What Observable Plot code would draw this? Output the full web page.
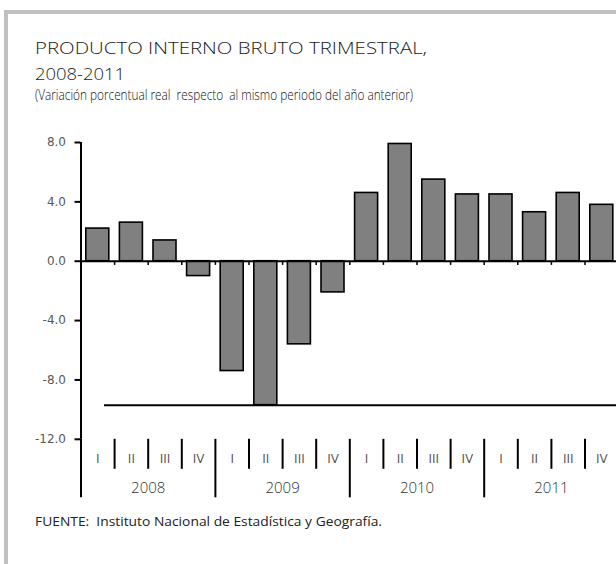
<!DOCTYPE html>
<html>
<head>
<meta charset="utf-8">
<script src="https://cdn.jsdelivr.net/npm/d3@7"></script>
<script src="https://cdn.jsdelivr.net/npm/@observablehq/plot@0.6"></script>
<style>
  html, body { margin: 0; padding: 0; background: #fff; overflow: hidden; }
  #page { position: relative; width: 616px; height: 564px; overflow: hidden; }
  #frame { position: absolute; left: 4px; top: 10px; width: 800px; height: 800px;
           border-top: 4px solid #c0c0c0; border-left: 4px solid #c0c0c0; box-sizing: border-box; }
  .t { position: absolute; left: 35px; white-space: pre; display: inline-block; transform-origin: 0 0;
       font-family: "Open Sans", sans-serif; color: #1a1a1a; font-weight: 300; }
  #chart { position: absolute; left: 0; top: 125px; }
</style>
</head>
<body>
<div id="page">
  <div id="frame"></div>
  <div class="t" id="title1" data-w="392" style="top:39px;font-size:17px;line-height:17px;">PRODUCTO INTERNO BRUTO TRIMESTRAL,</div>
  <div class="t" id="title2" data-w="90" style="top:65px;font-size:17px;line-height:17px;">2008-2011</div>
  <div class="t" id="subtitle" data-w="378" style="top:87px;font-size:15px;line-height:15px;color:#111;">(Variación porcentual real  respecto  al mismo periodo del año anterior)</div>
  <div id="chart"></div>
  <div class="t" id="caption" data-w="347" style="top:515px;font-size:13px;line-height:13px;color:#222;font-weight:400;">FUENTE:  Instituto Nacional de Estadística y Geografía.</div>
</div>
<script>
// ---- data ----
const years = ["2008", "2009", "2010", "2011"];
const quarters = ["I", "II", "III", "IV"];
const values = [2.2, 2.6, 1.4, -1.0, -7.4, -9.7, -5.6, -2.1, 4.6, 7.9, 5.5, 4.5, 4.5, 3.3, 4.6, 3.8];
const yTicks = [-12, -8, -4, 0, 4, 8];
const minLineValue = -9.7;   // horizontal line drawn in the original at the minimum
const minLineStart = 0.7;    // it begins partway into the first quarter

// table built from the arrays
const data = values.map((v, i) => ({
  i, year: years[Math.floor(i / quarters.length)], quarter: quarters[i % quarters.length], value: v
}));
const n = values.length;
const quarterCenters = d3.range(n).map(i => i + 0.5);
const yearBoundaries = d3.range(0, n + 1, quarters.length);
const quarterBoundaries = d3.range(1, n).filter(i => i % quarters.length !== 0);
const innerBoundaries = d3.range(1, n);
const yearCenters = years.map((y, k) => k * quarters.length + quarters.length / 2);

const plot = Plot.plot({
  width: 616,
  height: 380,
  marginTop: 17,
  marginBottom: 66.2,
  marginLeft: 80.5,
  marginRight: 0,
  style: { fontFamily: "DejaVu Sans", background: "transparent", overflow: "hidden" },
  x: { domain: [0, n], range: [80.5, 618.1], label: null },
  y: { domain: [-12, 8], range: [313.8, 17], label: null },
  marks: [
    Plot.rectY(data, {
      x1: "i", x2: d => d.i + 1, y1: 0, y2: "value",
      insetLeft: 5.3, insetRight: 5.3,
      fill: "#808080", stroke: "#000", strokeWidth: 1.6
    }),
    Plot.ruleY([minLineValue], { x1: minLineStart, x2: n, stroke: "#000", strokeWidth: 2 }),
    Plot.ruleY([0], { stroke: "#000", strokeWidth: 2 }),
    Plot.ruleX(innerBoundaries, { y1: 0, y2: -0.28, stroke: "#000", strokeWidth: 1.5 }),
    Plot.ruleX([0], { y1: -12, y2: 8, stroke: "#000", strokeWidth: 2 }),
    Plot.axisY({
      ticks: yTicks, tickFormat: d => d.toFixed(1), tickSize: 6, tickPadding: 9, label: null,
      stroke: "#000", strokeWidth: 2, fill: "#595959", fontSize: 12
    }),
    Plot.axisX({
      ticks: quarterBoundaries, tickSize: 30, tickFormat: () => "", label: null,
      stroke: "#000", strokeWidth: 2
    }),
    Plot.axisX({
      ticks: yearBoundaries, tickSize: 58.5, tickFormat: () => "", label: null,
      stroke: "#000", strokeWidth: 2
    }),
    Plot.axisX({
      ticks: quarterCenters, tickSize: 0, tickPadding: 15.5, label: null,
      tickFormat: d => quarters[Math.floor(d) % quarters.length],
      fill: "#555", fillOpacity: 0.99, fontSize: 12
    }),
    Plot.axisX({
      ticks: yearCenters, tickSize: 0, tickPadding: 43.5, label: null,
      tickFormat: d => years[Math.floor(d / quarters.length)],
      fill: "#333", fontSize: 15, fontFamily: "Open Sans", fontWeight: 300
    })
  ]
});
document.getElementById("chart").appendChild(plot);

// fit the HTML texts to the widths measured on the reference
document.querySelectorAll("[data-w]").forEach(el => {
  const w = el.getBoundingClientRect().width;
  if (w > 0) el.style.transform = `scaleX(${(+el.dataset.w / w).toFixed(4)})`;
});
</script>
</body>
</html>
